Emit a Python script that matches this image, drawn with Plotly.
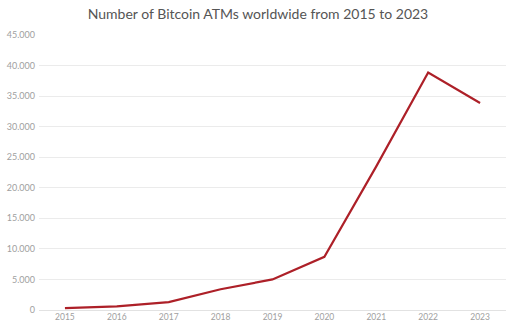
import plotly.graph_objects as go

years = ["2015", "2016", "2017", "2018", "2019", "2020", "2021", "2022", "2023"]
atms = [300, 600, 1300, 3400, 5000, 8700, 23500, 38850, 33880]
y_ticks = [0, 5000, 10000, 15000, 20000, 25000, 30000, 35000, 40000, 45000]

fig = go.Figure()
fig.add_trace(go.Scatter(
    x=years, y=atms, mode="lines",
    line=dict(color="#ad2028", width=2.2),
    hoverinfo="x+y",
))

fig.update_layout(
    width=516, height=323,
    margin=dict(l=39, r=10, t=35, b=13),
    paper_bgcolor="white", plot_bgcolor="white",
    separators=",.",
    showlegend=False,
    title=dict(
        text="Number of Bitcoin ATMs worldwide from 2015 to 2023",
        x=0.5, xanchor="center", y=0.955, yanchor="middle",
        font=dict(family="Lato, Open Sans, sans-serif", size=14, color="#555555"),
    ),
    xaxis=dict(
        type="category", range=[-0.5, 8.5], automargin=False,
        showgrid=False, showline=False, zeroline=False,
        ticks="", tickfont=dict(family="Lato, sans-serif", size=8.5, color="#a0a0a0"),
        ticklabelstandoff=0,
    ),
    yaxis=dict(
        range=[0, 45000], tickvals=y_ticks, tickformat=",d", automargin=False,
        showgrid=True, gridcolor="#ebebeb", gridwidth=1,
        zeroline=True, zerolinecolor="#e2e2e2", zerolinewidth=1,
        showline=False, ticks="",
        tickfont=dict(family="Lato, sans-serif", size=9, color="#a0a0a0"),
        ticklabelstandoff=3,
    ),
)

fig.write_html("out.html")
